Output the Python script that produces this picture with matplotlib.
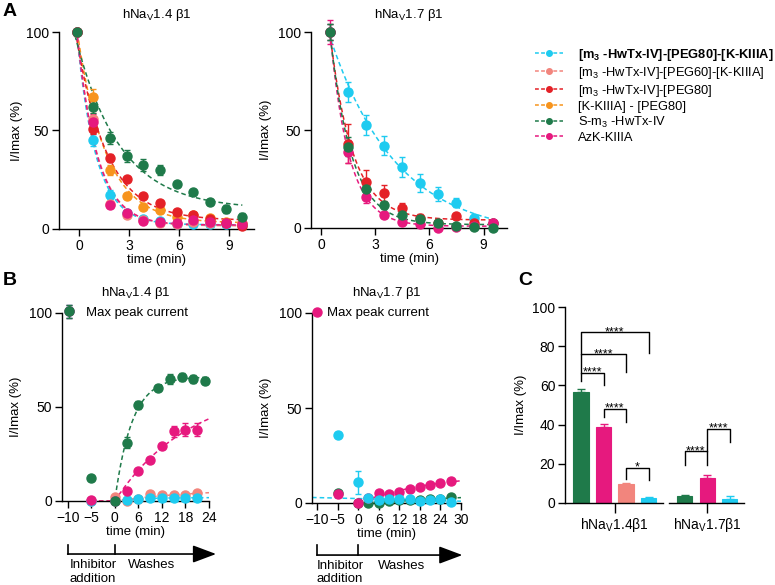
import numpy as np
import matplotlib.pyplot as plt
from matplotlib.lines import Line2D
from matplotlib.transforms import blended_transform_factory

plt.rcParams['font.family'] = ['Liberation Sans', 'DejaVu Sans']
plt.rcParams['mathtext.fontset'] = 'custom'
plt.rcParams['mathtext.rm'] = 'Liberation Sans'
plt.rcParams['mathtext.bf'] = 'Liberation Sans:bold'
plt.rcParams['font.size'] = 9.5
plt.rcParams['axes.linewidth'] = 1.0

CYAN = '#1ecbf0'
SALMON = '#f2857d'
RED = '#e42127'
ORANGE = '#f7941d'
GREEN = '#1f7a4a'
PINK = '#e6197e'

# ---- panel A : inhibition time course ----
t_a14 = [-0.15, 0.85, 1.85, 2.85, 3.85, 4.85, 5.85, 6.85, 7.85, 8.85, 9.8]
a14_cyan = [100, 45, 17.5, 8, 5, 4, 2.7, 2.5, 2.5, 2.5, 2]
a14_salmon = [100, 56, 12.5, 7, 4.5, 3, 2.7, 3.5, 3, 3, 3]
a14_red = [100, 51, 36, 25.5, 17, 13, 8.5, 7, 5, 3, 1.5]
a14_orange = [100, 67, 30, 16.5, 11, 9.5, 6, 7, 5.5, 3.5, 2.5]
a14_green = [100, 62, 46, 37, 32.5, 30, 23, 19, 13.5, 10, 6]
a14_pink = [100, 54.5, 12, 8, 4, 3.5, 3, 4.5, 3.5, 3, 2.5]
a14_err = {'cyan': [0, 3, 2.5, 1, 1, 1, 1, 1, 1, 1, 1],
           'salmon': [0, 3, 1.5, 1, 1, 1, 1, 1, 1, 1, 1],
           'red': [0, 3, 2, 1, 1, 1, 1, 1, 1, 1, 1],
           'orange': [0, 4, 2.5, 1, 1, 1, 1, 1, 1, 1, 1],
           'green': [0, 3, 3, 3, 3, 2.5, 1, 1, 1.5, 2, 2],
           'pink': [0, 4, 1.5, 1, 1, 1, 1, 1, 1, 1, 1]}

t_a17 = [0.5, 1.5, 2.5, 3.5, 4.5, 5.5, 6.5, 7.5, 8.5, 9.5]
a17_cyan = [100, 69.5, 52.5, 42, 31, 23, 17.5, 13, 5, 2.5]
a17_red = [100, 43, 23.5, 18, 10, 5, 2.5, 6, 2.5, 2.5]
a17_green = [100, 41.5, 20, 11.5, 6.5, 4.5, 2.5, 1, 0.5, 0]
a17_pink = [100, 39, 16, 6.5, 3, 2, 0, 0.5, 1, 2.5]
a17_err = {'cyan': [4, 5, 5, 5, 5, 4.5, 3.5, 2.5, 1, 0.5],
           'red': [4, 10, 6, 4, 3, 2, 1, 1, 1, 1],
           'green': [4, 5, 3, 2, 1.5, 1, 1, 0.5, 0.5, 0.5],
           'pink': [6, 6, 3, 1.5, 1, 1, 0.5, 0.5, 0.5, 0.5]}

legend_labels = ['[m$_\\mathbf{3}$ -HwTx-IV]-[PEG80]-[K-KIIIA]',
                 '[m$_3$ -HwTx-IV]-[PEG60]-[K-KIIIA]',
                 '[m$_3$ -HwTx-IV]-[PEG80]',
                 '[K-KIIIA] - [PEG80]',
                 'S-m$_3$ -HwTx-IV',
                 'AzK-KIIIA']
legend_colors = [CYAN, SALMON, RED, ORANGE, GREEN, PINK]

# ---- panel B : washout ----
t_b14 = [-5, 0, 3, 6, 9, 12, 15, 18, 21]
t_b14_green = [-5, 0, 3, 6, 11, 14, 17, 20, 23]
b14_green = [12.5, 0, 31, 51, 60, 65, 66, 65, 64]
b14_green_err = [0.5, 0, 3, 2, 1.5, 2.5, 2, 2, 2]
b14_pink = [0.5, 0, 5.5, 16, 22, 29, 37, 38, 38]
b14_pink_err = [0, 0, 1, 1, 1, 1.5, 3, 3.5, 3.5]
b14_salmon = [0, 2.3, 0, 1, 3.5, 3, 3, 3, 4.5]
b14_cyan = [0, 0, 0.5, 1, 1.4, 1.8, 1.8, 1.8, 1.4]

t_b17 = [-5, 0, 3, 6, 9, 12, 15, 18, 21, 24, 27]
b17_pink = [4.5, 0, 2.5, 5.5, 4.5, 6, 7.5, 8.5, 9.5, 10.5, 11.5]
b17_cyan = [36, 11, 2.5, 1.5, 2, 2, 2, 1, 1.5, 2, 0.5]
b17_cyan_err = [1.5, 6, 0.5, 0.5, 0.5, 0.5, 0.5, 0.5, 0.5, 0.5, 0.5]
b17_green = [5.5, 0, 0, 0, 1, 1.5, 1.5, 1.5, 2, 2, 3]
b17_green_err = [1, 0, 0.5, 0.5, 0.5, 0.5, 0.5, 0.5, 0.5, 0.5, 0.5]

b_ticks14 = [-10, -5, 0, 6, 12, 18, 24]
b_ticks17 = [-10, -5, 0, 6, 12, 18, 24, 30]

# ---- panel C : residual current ----
c_groups = ['hNa$_\\mathrm{V}$1.4β1', 'hNa$_\\mathrm{V}$1.7β1']
c_14 = [56.5, 39, 9.7, 2.7]
c_14_err = [1.5, 1.5, 0.3, 0.3]
c_17 = [3.8, 13, 2.2]
c_17_err = [0.5, 1.2, 1.2]


def fit_decay(t, y):
    t = np.asarray(t, float)
    y = np.asarray(y, float)
    best = None
    for k in np.linspace(0.05, 3, 600):
        A = np.column_stack([np.exp(-k * (t - t[0])), np.ones_like(t)])
        coef = np.linalg.lstsq(A, y, rcond=None)[0]
        err = np.sum((A @ coef - y) ** 2)
        if best is None or err < best[0]:
            best = (err, k, coef)
    _, k, (a, p) = best
    return lambda tt: a * np.exp(-k * (tt - t[0])) + p


def fit_assoc(t, y):
    t = np.asarray(t, float)
    y = np.asarray(y, float)
    m = t >= 0
    t, y = t[m], y[m]
    best = None
    for k in np.linspace(0.005, 1.5, 800):
        g = 1 - np.exp(-k * t)
        p = np.sum(g * y) / np.sum(g * g)
        err = np.sum((p * g - y) ** 2)
        if best is None or err < best[0]:
            best = (err, k, p)
    _, k, p = best
    return lambda tt: np.where(tt < 0, 0, p * (1 - np.exp(-k * np.clip(tt, 0, None))))


W, H = 775, 585
fig = plt.figure(figsize=(W / 100, H / 100), dpi=100)


def add_ax(l, t, r, b):
    return fig.add_axes([l / W, 1 - b / H, (r - l) / W, (b - t) / H])


def style(ax, ylab_px, left, width):
    for s in ['top', 'right']:
        ax.spines[s].set_visible(False)
    ax.tick_params(direction='out', length=5, width=1, labelsize=10, pad=2)
    ax.set_ylabel('I/Imax (%)', fontsize=9.5)
    # label coords give the right edge of the rotated text
    ax.yaxis.set_label_coords((ylab_px + 5 - left) / width, 0.5)


dash = (3, 2)


def series(ax, t, y, err, color, ms=6.5):
    return ax.errorbar(t, y, yerr=err, fmt='o', color=color, ms=ms, capsize=2.5,
                       elinewidth=1, capthick=1, clip_on=False, zorder=3)


# ================= A =================
axA1 = add_ax(59, 32, 254, 229)
axA2 = add_ax(311, 32, 507, 228)

for ax, t, sets, title in [
        (axA1, t_a14, [(a14_cyan, CYAN, 'cyan'), (a14_salmon, SALMON, 'salmon'),
                       (a14_orange, ORANGE, 'orange'), (a14_red, RED, 'red'),
                       (a14_pink, PINK, 'pink'), (a14_green, GREEN, 'green')],
         'hNa$_\\mathrm{V}$1.4 β1'),
        (axA2, t_a17, [(a17_cyan, CYAN, 'cyan'), (a17_red, RED, 'red'),
                       (a17_pink, PINK, 'pink'), (a17_green, GREEN, 'green')],
         'hNa$_\\mathrm{V}$1.7 β1')]:
    errs = a14_err if ax is axA1 else a17_err
    tt = np.linspace(t[0] - 0.2, t[-1], 200)
    for y, c, key in sets:
        f = fit_decay(t, y)
        ax.plot(tt, f(tt), ls='--', dashes=dash, color=c, lw=1.1, zorder=2)
    for y, c, key in sets:
        series(ax, t, y, errs[key], c)
    ax.set_ylim(0, 100)
    ax.set_yticks([0, 50, 100])
    ax.set_xticks([0, 3, 6, 9])
    ax.set_xlabel('time (min)', fontsize=9.5, labelpad=1)
    ax.set_title(title, fontsize=9.5, pad=10)

axA1.set_xlim(-1.2, 10.5)
axA2.set_xlim(-0.55, 10.3)
style(axA1, 18, 59, 195)
style(axA2, 267, 311, 196)

handles = [Line2D([], [], color=c, ls='--', dashes=(2.5, 1.5), lw=1.1, marker='o', ms=4)
           for c in legend_colors]
leg = fig.legend(handles, legend_labels, loc='upper left', bbox_to_anchor=(535 / W, 1 - 47 / H),
                 frameon=False, fontsize=9.3, handlelength=2.15, handletextpad=1.2,
                 labelspacing=0.15, borderpad=0, borderaxespad=0)
leg.get_texts()[0].set_fontweight('bold')


# ================= B =================
def fwd(t):
    t = np.asarray(t, float)
    return np.where(t < 0, t / 5.0, t / 6.0)


def inv(u):
    u = np.asarray(u, float)
    return np.where(u < 0, u * 5.0, u * 6.0)


axB1 = add_ax(62, 313, 209, 501)
axB2 = add_ax(312, 313, 461, 503)
for ax in (axB1, axB2):
    ax.set_xscale('function', functions=(fwd, inv))

# B left
tt = np.linspace(-5, 24, 300)
for t, y, c, start in [(t_b14, b14_cyan, CYAN, 0), (t_b14, b14_salmon, SALMON, -5),
                       (t_b14, b14_pink, PINK, -5), (t_b14_green, b14_green, GREEN, -1)]:
    f = fit_assoc(t, y)
    x = tt[tt >= start]
    axB1.plot(x, f(x), ls='--', dashes=dash, color=c, lw=1.1, zorder=2)
series(axB1, t_b14, b14_salmon, None, SALMON)
eb_c1 = series(axB1, t_b14, b14_cyan, [0.3] * len(t_b14), CYAN)
eb_p1 = series(axB1, t_b14, b14_pink, b14_pink_err, PINK)
eb_g1 = series(axB1, t_b14_green, b14_green, b14_green_err, GREEN)
axB1.set_xlim(-11.2, 24)
axB1.set_xticks(b_ticks14)
axB1.set_title('hNa$_\\mathrm{V}$1.4 β1', fontsize=9.5, pad=12)
axB1.legend([(eb_c1, eb_p1, eb_g1)], ['Max peak current'], loc='center left',
            bbox_to_anchor=(0.0, 1.0), frameon=False, fontsize=9.5, handlelength=1.0,
            handletextpad=0.8, borderpad=0, borderaxespad=0)

# B right
tt = np.linspace(-11.2, 30, 300)
lin = np.polyfit([t for t in t_b17 if t >= 3], [y for t, y in zip(t_b17, b17_cyan) if t >= 3], 1)
axB2.plot(tt, np.polyval(lin, tt), ls='--', dashes=dash, color=CYAN, lw=1.1, zorder=2)
x = tt[tt >= 0]
axB2.plot(x, fit_assoc(t_b17, b17_green)(x), ls='--', dashes=dash, color=GREEN, lw=1.1, zorder=2)
axB2.plot(x, fit_assoc(t_b17, b17_pink)(x), ls='--', dashes=dash, color=PINK, lw=1.1, zorder=2)
series(axB2, t_b17, b17_green, b17_green_err, GREEN)
eb_p2 = series(axB2, t_b17, b17_pink, None, PINK)
series(axB2, t_b17, b17_cyan, b17_cyan_err, CYAN)
axB2.set_xlim(-11.2, 30)
axB2.set_xticks(b_ticks17)
axB2.set_title('hNa$_\\mathrm{V}$1.7 β1', fontsize=9.5, pad=12)
axB2.legend([eb_p2], ['Max peak current'], loc='center left',
            bbox_to_anchor=(0.0, 1.0), frameon=False, fontsize=9.5, handlelength=0.8,
            handletextpad=0.3, borderpad=0, borderaxespad=0)

for ax, lpx, w, tip, wash_x, inh_x, y_line, y_tick, y_txt in [
        (axB1, 62, 147, 25.8, 9.4, -4.6, -0.282, -0.234, -0.31),
        (axB2, 312, 149, 30.4, 12.8, -4.4, -0.274, -0.221, -0.30)]:
    ax.set_ylim(0, 100)
    ax.set_yticks([0, 50, 100])
    ax.set_xlabel('time (min)', fontsize=9.5, labelpad=1)
    style(ax, 17 if ax is axB1 else 267, lpx, w)
    tr = blended_transform_factory(ax.transData, ax.transAxes)
    ax.annotate('', xy=(tip, y_line), xytext=(-10, y_line), xycoords=tr, textcoords=tr,
                annotation_clip=False,
                arrowprops=dict(arrowstyle='-|>,head_length=1.2,head_width=0.45',
                                mutation_scale=12, lw=1.2, color='black',
                                shrinkA=0, shrinkB=0))
    for xv in (-10, 0):
        ax.plot([xv, xv], [y_line, y_tick], transform=tr, clip_on=False, color='black', lw=1.2)
    ax.text(inh_x, y_txt, 'Inhibitor\naddition', transform=tr, ha='center', va='top',
            fontsize=9.5, linespacing=1.15)
    ax.text(wash_x, y_txt, 'Washes', transform=tr, ha='center', va='top', fontsize=9.5)

# ================= C =================
axC = add_ax(565, 307, 744, 503)
x14 = [1, 2, 3, 4]
x17 = [5.6, 6.6, 7.6]
cols14 = [GREEN, PINK, SALMON, CYAN]
cols17 = [GREEN, PINK, CYAN]
for xs, vals, errs, cols in [(x14, c_14, c_14_err, cols14), (x17, c_17, c_17_err, cols17)]:
    axC.bar(xs, vals, width=0.67, color=cols, edgecolor=cols, lw=0.8, zorder=2)
    for xv, v, e, c in zip(xs, vals, errs, cols):
        axC.errorbar([xv], [v], yerr=[[0], [e]], color=c, capsize=3, elinewidth=1,
                     capthick=1, zorder=2)
axC.set_xlim(0.29, 8.24)
axC.set_ylim(0, 100)
axC.set_yticks([0, 20, 40, 60, 80, 100])
axC.spines['bottom'].set_visible(False)
axC.plot([0.29, 4.64], [0, 0], color='black', lw=1.0, clip_on=False, zorder=3)
axC.plot([4.9, 8.24], [0, 0], color='black', lw=1.0, clip_on=False, zorder=3)
axC.set_xticks([2.5, 6.6])
axC.set_xticklabels(c_groups)
style(axC, 522, 565, 179)
axC.tick_params(axis='x', length=7, pad=2)

brackets = [(1, 2, 66.5, 62, 60, '****'),
            (1, 3, 76, 66.5, 67, '****'),
            (1, 4, 87, 76, 76.5, '****'),
            (2, 3, 48, 44, 41.3, '****'),
            (3, 4, 18, 12, 11.6, '*'),
            (5.6, 6.6, 26.4, 19.6, 19.6, '****'),
            (6.6, 7.6, 38, 26.4, 31, '****')]
for x1, x2, top, yl, yr, lab in brackets:
    axC.plot([x1, x1, x2, x2], [yl, top, top, yr], color='black', lw=1.0, zorder=3)
    axC.text((x1 + x2) / 2, top - 1.5, lab, ha='center', va='baseline', fontsize=9)

# panel letters
for lab, x, y in [('A', 3, 3), ('B', 3, 272), ('C', 518, 272)]:
    fig.text(x / W, 1 - y / H, lab, fontsize=14, fontweight='bold', va='top', ha='left')

fig.savefig('out.png', dpi=100)
